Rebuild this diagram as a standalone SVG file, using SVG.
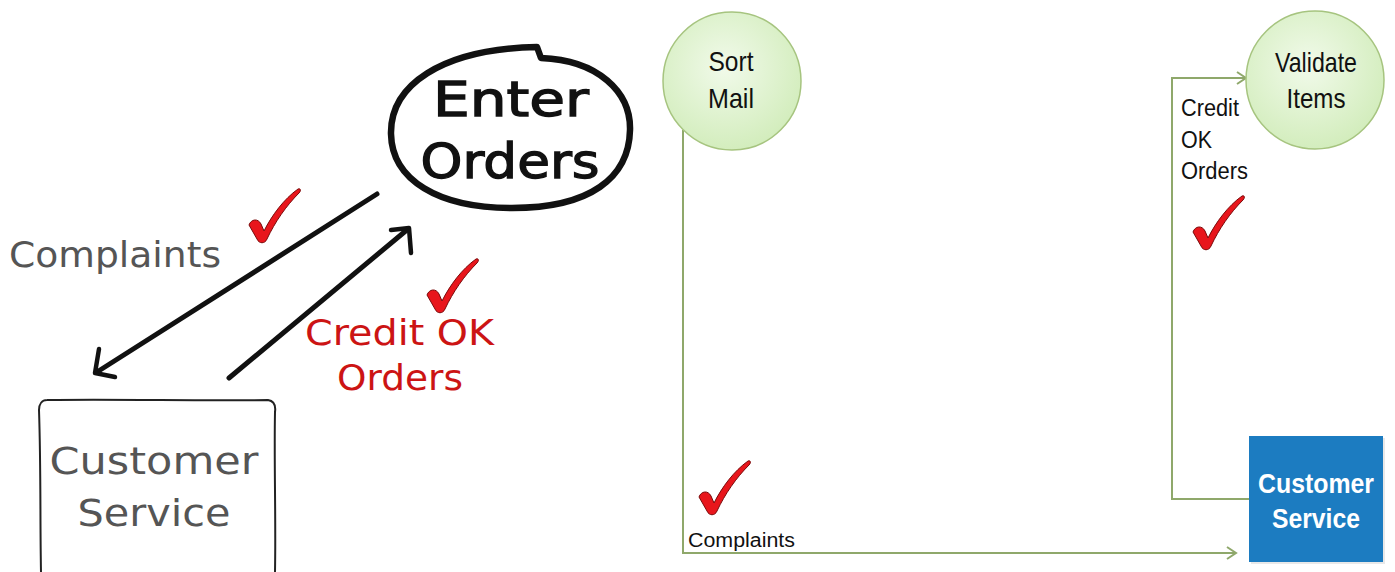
<svg xmlns="http://www.w3.org/2000/svg" xmlns:xlink="http://www.w3.org/1999/xlink" width="1395" height="572" viewBox="0 0 1395 572">
<style>
.hand{font-family:"DejaVu Sans","Noto Sans",sans-serif;}
.arial{font-family:"Liberation Sans",Arial,sans-serif;}
.sketch{fill:none;stroke:#111;stroke-linecap:round;stroke-linejoin:round;}
.green{fill:none;stroke:#8fa86b;stroke-width:2;}
.bubble{fill:url(#bg);stroke:#a6c47f;stroke-width:1.5;}
</style>
<defs>
<radialGradient id="bg" cx="0.45" cy="0.4" r="0.6">
<stop offset="0" stop-color="#f1faea"/>
<stop offset="1" stop-color="#d3edbd"/>
</radialGradient>
<marker id="chev" markerUnits="userSpaceOnUse" markerWidth="14" markerHeight="16" refX="11" refY="7" orient="auto">
<path d="M2,1 L11,7 L2,13" fill="none" stroke="#8fa86b" stroke-width="2"/>
</marker>
<path id="check" d="M1,37 C3,31 10,30 13,36 L16,43 C24,27 36,11 50,1 C53,0 53,3 51,5 C38,18 27,34 19,51 C17,56 11,56 9,51 Z" fill="#e8161c" stroke="#7a0a0a" stroke-width="1"/>
</defs>
<rect width="1395" height="572" fill="#fff"/>

<g id="connectors">
<path class="sketch" stroke-width="5" d="M377,194 L97,372"/>
<path class="sketch" stroke-width="4.5" d="M99,349 L95,373 L115,377"/>
<path class="sketch" stroke-width="5" d="M229,378 L408,229"/>
<path class="sketch" stroke-width="4.5" d="M391,230 L409,228 L411,253"/>
<path class="green" d="M683,130 L683,553 L1236,553" marker-end="url(#chev)"/>
<path class="green" d="M1249,499 L1172,499 L1172,78 L1246,78" marker-end="url(#chev)"/>
</g>

<g id="enter-orders">
<path class="sketch" stroke-width="6.5" d="M537,47 L541,58 C598,60 631,92 630,130 C629,178 590,208 512,208 C438,208 392,180 391,134 C390,86 440,49 537,47 Z"/>
<text class="hand" x="511" y="116" font-size="48" text-anchor="middle" fill="#111" stroke="#111" stroke-width="1.3" textLength="156" lengthAdjust="spacingAndGlyphs">Enter</text>
<text class="hand" x="510" y="178" font-size="48" text-anchor="middle" fill="#111" stroke="#111" stroke-width="1.3" textLength="179" lengthAdjust="spacingAndGlyphs">Orders</text>
</g>

<g id="customer-service-sketch">
<path fill="none" stroke="#222" stroke-width="2" d="M47,400 C120,399 200,401 268,400 C274,401 276,405 275,412 C274,460 276,520 275,572 M41,572 C40,520 41,470 39,410 C39,404 42,400 47,400"/>
<text class="hand" x="154" y="474" font-size="38" text-anchor="middle" fill="#555" textLength="209" lengthAdjust="spacingAndGlyphs">Customer</text>
<text class="hand" x="154" y="526" font-size="38" text-anchor="middle" fill="#555" textLength="153" lengthAdjust="spacingAndGlyphs">Service</text>
</g>

<g id="left-labels">
<text class="hand" x="9" y="267" font-size="35" fill="#555" textLength="212" lengthAdjust="spacingAndGlyphs">Complaints</text>
<text class="hand" x="305" y="345" font-size="35" fill="#cc1414" textLength="189" lengthAdjust="spacingAndGlyphs">Credit OK</text>
<text class="hand" x="337" y="390" font-size="35" fill="#cc1414" textLength="126" lengthAdjust="spacingAndGlyphs">Orders</text>
<use xlink:href="#check" href="#check" x="248" y="188"/>
<use xlink:href="#check" href="#check" x="426" y="258"/>
</g>

<g id="sort-mail">
<circle class="bubble" cx="732" cy="81" r="69"/>
<text class="arial" x="731" y="71" font-size="28" text-anchor="middle" fill="#111" textLength="45" lengthAdjust="spacingAndGlyphs">Sort</text>
<text class="arial" x="731" y="108" font-size="28" text-anchor="middle" fill="#111" textLength="46" lengthAdjust="spacingAndGlyphs">Mail</text>
</g>

<g id="validate-items">
<circle class="bubble" cx="1315" cy="80" r="69"/>
<text class="arial" x="1316" y="72" font-size="28" text-anchor="middle" fill="#111" textLength="82" lengthAdjust="spacingAndGlyphs">Validate</text>
<text class="arial" x="1316" y="108" font-size="28" text-anchor="middle" fill="#111" textLength="59" lengthAdjust="spacingAndGlyphs">Items</text>
</g>

<g id="customer-service">
<rect x="1251" y="438" width="134" height="126" fill="#d8d8d8" opacity="0.6"/>
<rect x="1249" y="436" width="134" height="126" fill="#1c7cc1"/>
<text class="arial" x="1316" y="493" font-size="28" font-weight="bold" text-anchor="middle" fill="#fff" textLength="116" lengthAdjust="spacingAndGlyphs">Customer</text>
<text class="arial" x="1316" y="528" font-size="28" font-weight="bold" text-anchor="middle" fill="#fff" textLength="88" lengthAdjust="spacingAndGlyphs">Service</text>
</g>

<g id="right-labels">
<text class="arial" x="1181" y="116" font-size="23" fill="#111" textLength="58" lengthAdjust="spacingAndGlyphs">Credit</text>
<text class="arial" x="1181" y="148" font-size="23" fill="#111" textLength="31" lengthAdjust="spacingAndGlyphs">OK</text>
<text class="arial" x="1181" y="179" font-size="23" fill="#111" textLength="67" lengthAdjust="spacingAndGlyphs">Orders</text>
<text class="arial" x="688" y="547" font-size="20" fill="#111" textLength="107" lengthAdjust="spacingAndGlyphs">Complaints</text>
<use xlink:href="#check" href="#check" x="1192" y="195"/>
<use xlink:href="#check" href="#check" x="698" y="460"/>
</g>
</svg>
